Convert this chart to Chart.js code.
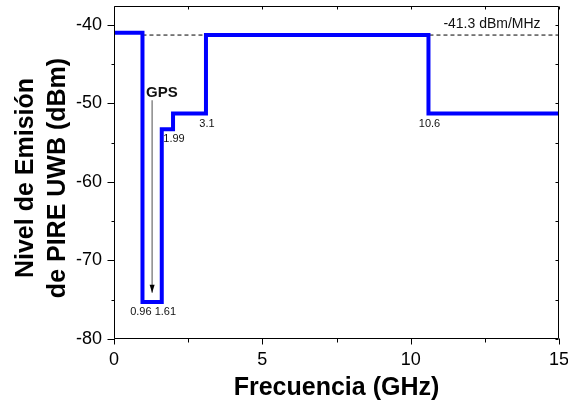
<!DOCTYPE html>
<html>
<head>
<meta charset="utf-8">
<script src="https://cdn.jsdelivr.net/npm/chart.js@4/dist/chart.umd.min.js"></script>
<style>
  html, body { margin: 0; padding: 0; background: #fff; }
  canvas { display: block; }
</style>
</head>
<body>
<canvas id="mask" width="568" height="405"></canvas>
<script>
// UWB emission mask: step edges (GHz) and EIRP level of each step (dBm/MHz)
const stepFreqs = [0, 0.96, 1.61, 1.99, 3.1, 10.6, 15];
const stepLevels = [-41.0, -75.3, -53.3, -51.3, -41.3, -51.3, -51.3];

// -41.3 dBm/MHz reference limit
const limitFreqs = [0.96, 15];
const limitLevel = -41.3;

// GPS band pointer
const gpsFreq = 1.285;
const gpsLevels = [-49.6, -74.1];

// edge labels: text, frequency, level of the step under it
const edgeLabels = [
  ['0.96 1.61', 1.285, -75.3],
  ['1.99', 1.99, -53.3],
  ['3.1', 3.1, -51.3],
  ['10.6', 10.6, -51.3]
];

const xTicks = [0, 5, 10, 15];
const xMinor = [2.5, 7.5, 12.5];
const yTicks = [-80, -70, -60, -50, -40];
const yMinor = [-75, -65, -55, -45];

const xTitle = 'Frecuencia (GHz)';
const yTitle = ['Nivel de Emisión', 'de PIRE UWB (dBm)'];

const FONT = "'Liberation Sans', Arial, sans-serif";

const pts = (xs, ys) => xs.map((x, i) => ({ x: x, y: ys[i] }));

// frame, mirrored ticks, annotations and axis titles
const decor = {
  id: 'decor',
  afterDraw(chart) {
    const { ctx, chartArea: a, scales: { x, y } } = chart;
    const L = a.left + 0.5, R = a.right - 0.5, T = a.top + 0.5, B = a.bottom - 0.5;
    ctx.save();
    ctx.strokeStyle = '#000';
    ctx.lineWidth = 1;
    ctx.beginPath();
    ctx.rect(L, T, R - L, B - T);

    const xt = (v, len) => {
      const px = Math.round(x.getPixelForValue(v)) + 0.5;
      ctx.moveTo(px, B); ctx.lineTo(px, B + len);   // outward at bottom
      ctx.moveTo(px, T); ctx.lineTo(px, T + 3);     // inward at top
    };
    const yt = (v, len) => {
      const py = Math.round(y.getPixelForValue(v)) + 0.5;
      ctx.moveTo(L, py); ctx.lineTo(L - len, py);   // outward at left
      ctx.moveTo(R, py); ctx.lineTo(R - 3, py);     // inward at right
    };
    xTicks.forEach(v => xt(v, 6));
    xMinor.forEach(v => xt(v, 4));
    yTicks.forEach(v => yt(v, 7));
    yMinor.forEach(v => yt(v, 3));
    ctx.stroke();

    // arrow head of the GPS pointer
    const gx = x.getPixelForValue(gpsFreq);
    const gy = y.getPixelForValue(gpsLevels[1]);
    ctx.fillStyle = '#000';
    ctx.beginPath();
    ctx.moveTo(gx, gy);
    ctx.lineTo(gx - 2.5, gy - 8);
    ctx.lineTo(gx + 2.5, gy - 8);
    ctx.closePath();
    ctx.fill();

    ctx.fillStyle = '#111';
    ctx.font = 'bold 15px ' + FONT;
    ctx.textAlign = 'left';
    ctx.textBaseline = 'alphabetic';
    ctx.fillText('GPS', gx - 6, y.getPixelForValue(gpsLevels[0]) - 3);

    ctx.font = '11px ' + FONT;
    ctx.textAlign = 'center';
    ctx.textBaseline = 'middle';
    edgeLabels.forEach(([t, f, lv]) => {
      ctx.fillText(t, x.getPixelForValue(f) + 1, y.getPixelForValue(lv) + 10);
    });

    ctx.font = '14px ' + FONT;
    ctx.fillText(limitLevel + ' dBm/MHz', 492, y.getPixelForValue(limitLevel) - 11);

    // axis titles
    ctx.fillStyle = '#000';
    ctx.font = 'bold 25px ' + FONT;
    ctx.textBaseline = 'alphabetic';
    ctx.fillText(xTitle, (a.left + a.right) / 2, 395);
    ctx.translate(33, 178);
    ctx.rotate(-Math.PI / 2);
    ctx.fillText(yTitle[0], 0, 0);
    ctx.fillText(yTitle[1], 0, 32);
    ctx.restore();
  }
};

new Chart(document.getElementById('mask'), {
  type: 'line',
  data: {
    datasets: [
      {
        data: pts(stepFreqs, stepLevels),
        borderColor: '#0000ff',
        borderWidth: 4,
        stepped: true,
        borderJoinStyle: 'miter',
        borderCapStyle: 'butt',
        pointRadius: 0
      },
      {
        data: pts(limitFreqs, limitFreqs.map(() => limitLevel)),
        borderColor: '#000',
        borderWidth: 1,
        borderDash: [4, 3],
        pointRadius: 0
      },
      {
        data: pts([gpsFreq, gpsFreq], gpsLevels),
        borderColor: '#777',
        borderWidth: 1.3,
        pointRadius: 0
      }
    ]
  },
  options: {
    responsive: false,
    animation: false,
    layout: { padding: { top: 6, right: 9, left: 0, bottom: 0 } },
    plugins: { legend: { display: false }, tooltip: { enabled: false } },
    scales: {
      x: {
        type: 'linear',
        min: 0,
        max: 15,
        afterBuildTicks: s => { s.ticks = xTicks.map(v => ({ value: v })); },
        afterFit: s => { s.height = 66; s.paddingLeft = 0; s.paddingRight = 0; },
        grid: { display: false, tickLength: 6 },
        border: { display: false },
        ticks: { padding: 4, color: '#000', font: { family: FONT, size: 18 }, maxRotation: 0 }
      },
      y: {
        min: -80,
        max: -37.6,
        afterBuildTicks: s => { s.ticks = yTicks.map(v => ({ value: v })); },
        afterFit: s => { s.width = 114; s.paddingTop = 0; s.paddingBottom = 0; },
        grid: { display: false, tickLength: 7 },
        border: { display: false },
        ticks: { padding: 5, color: '#000', font: { family: FONT, size: 18 } }
      }
    }
  },
  plugins: [decor]
});
</script>
</body>
</html>
